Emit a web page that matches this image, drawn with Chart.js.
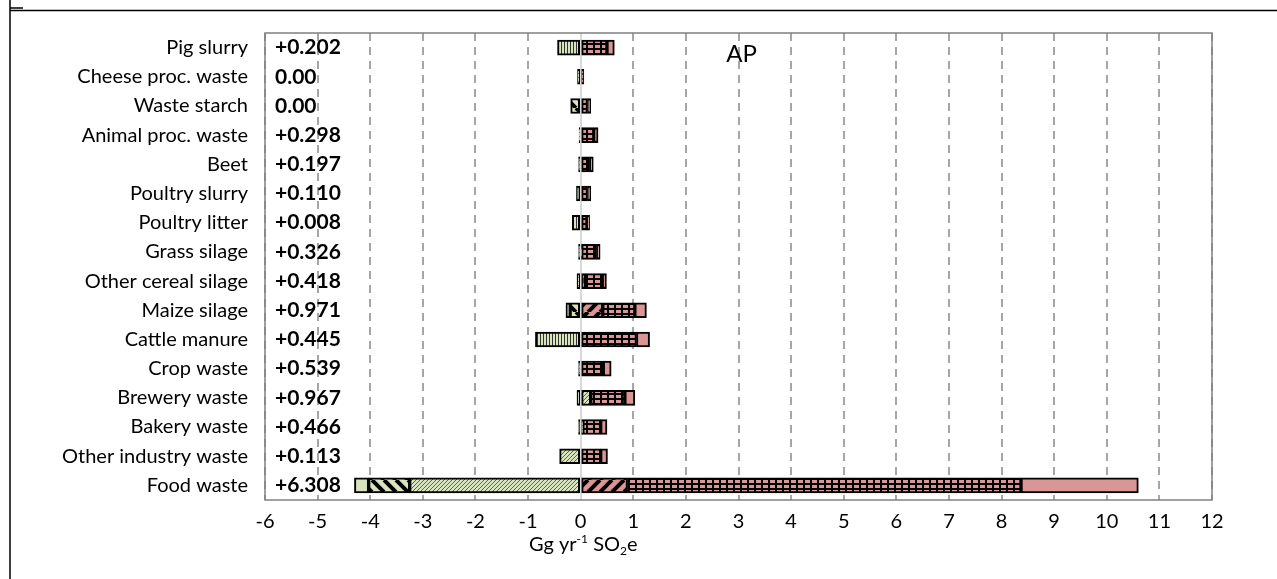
<!DOCTYPE html>
<html>
<head>
<meta charset="utf-8">
<script src="https://cdn.jsdelivr.net/npm/chart.js@4.4.1/dist/chart.umd.min.js"></script>
<style>
  html, body { margin: 0; padding: 0; background: #fff; }
  #wrap { width: 1277px; height: 579px; position: relative; }
</style>
</head>
<body>
<div id="wrap"><canvas id="chart" width="1277" height="579"></canvas></div>
<script>
// categories, top to bottom
const categories = ["Pig slurry", "Cheese proc. waste", "Waste starch", "Animal proc. waste", "Beet",
  "Poultry slurry", "Poultry litter", "Grass silage", "Other cereal silage", "Maize silage",
  "Cattle manure", "Crop waste", "Brewery waste", "Bakery waste", "Other industry waste", "Food waste"];

// net values printed inside the plot
const netLabels = ["+0.202", "0.00", "0.00", "+0.298", "+0.197", "+0.110", "+0.008", "+0.326",
  "+0.418", "+0.971", "+0.445", "+0.539", "+0.967", "+0.466", "+0.113", "+6.308"];

// contributions (Gg yr-1 SO2e)
const greenHatch   = [0, -0.06, 0, -0.03, -0.04, 0, 0, -0.04, -0.07, 0, 0, -0.04, 0.19, 0.04, -0.40, -3.25];
const greenLines   = [-0.44, 0, 0, 0, 0, -0.08, -0.16, 0, 0, 0, -0.86, 0, -0.07, -0.04, 0, 0];
const greenStripes = [0, 0, -0.19, 0, 0, 0, 0, 0, 0, -0.20, 0, 0, 0, 0, 0, -0.78];
const greenSolid   = [0, 0, 0, 0, 0, 0, 0, 0, 0, -0.08, 0, 0, 0, 0, 0, -0.27];
const pinkStripes  = [0, 0, 0, 0, 0, 0, 0, 0.02, 0.08, 0.42, 0, 0, 0, 0, 0, 0.89];
const pinkGrid     = [0.50, 0.06, 0.13, 0.25, 0.17, 0.13, 0.12, 0.28, 0.33, 0.61, 1.06, 0.43, 0.65, 0.34, 0.38, 7.48];
const pinkSolid    = [0.14, 0, 0.06, 0.08, 0.07, 0.06, 0.05, 0.07, 0.08, 0.22, 0.25, 0.15, 0.19, 0.12, 0.13, 2.23];

const GREEN = "#d7e4bd";
const PINK = "#da9694";

function tile(w, h, draw) {
  const c = document.createElement("canvas");
  c.width = w; c.height = h;
  const g = c.getContext("2d");
  draw(g, w, h);
  return g.createPattern(c, "repeat");
}

function diag(g, s, dir, width) {
  g.strokeStyle = "#000";
  g.lineWidth = width;
  for (let k = -1; k <= 1; k++) {
    g.beginPath();
    if (dir > 0) { g.moveTo(k * s, s); g.lineTo(k * s + s, 0); }
    else { g.moveTo(k * s, 0); g.lineTo(k * s + s, s); }
    g.stroke();
  }
}

const patFineHatch = tile(4, 4, (g, w, h) => {
  g.fillStyle = GREEN; g.fillRect(0, 0, w, h);
  g.strokeStyle = "#5a6b3a"; g.lineWidth = 1;
  for (let k = -1; k <= 1; k++) { g.beginPath(); g.moveTo(k * 4, 4); g.lineTo(k * 4 + 4, 0); g.stroke(); }
});
const patLines = tile(3, 3, (g, w, h) => {
  g.fillStyle = GREEN; g.fillRect(0, 0, w, h);
  g.fillStyle = "#333"; g.fillRect(0, 0, 1, h);
});
const patGreenStripes = tile(12, 12, (g, w, h) => {
  g.fillStyle = GREEN; g.fillRect(0, 0, w, h);
  diag(g, 12, -1, 4);
});
const patPinkStripes = tile(12, 12, (g, w, h) => {
  g.fillStyle = PINK; g.fillRect(0, 0, w, h);
  diag(g, 12, 1, 4);
});
const patGrid = tile(7, 5, (g, w, h) => {
  g.fillStyle = "#000"; g.fillRect(0, 0, w, h);
  g.fillStyle = PINK; g.fillRect(0, 0, 5, 3);
});

function ds(label, values, fill) {
  return {
    label: label,
    data: values.map(v => (v === 0 ? null : v)),
    backgroundColor: fill,
    borderColor: "#000",
    borderWidth: 2,
    borderSkipped: false,
    barThickness: 15
  };
}

const FONT = "Lato, 'Open Sans', sans-serif";

const annotations = {
  id: "annotations",
  beforeDraw(chart) {
    const c = chart.ctx;
    c.save();
    c.strokeStyle = "#000";
    c.lineWidth = 1.5;
    c.beginPath();
    c.moveTo(10, 0); c.lineTo(10, 579);
    c.moveTo(10, 10.5); c.lineTo(1277, 10.5);
    c.moveTo(10, 8); c.lineTo(23, 8);
    c.stroke();
    c.restore();
  },
  afterDraw(chart) {
    const c = chart.ctx;
    const a = chart.chartArea;
    const x = chart.scales.x, y = chart.scales.y;
    c.save();
    // plot frame
    c.strokeStyle = "#808080";
    c.lineWidth = 1.5;
    c.strokeRect(a.left, a.top, a.right - a.left, a.bottom - a.top);
    // net values
    c.fillStyle = "#000";
    c.font = "bold 21px " + FONT;
    c.textAlign = "left";
    c.textBaseline = "middle";
    netLabels.forEach((t, i) => c.fillText(t, a.left + 10, y.getPixelForValue(i)));
    // indicator name
    c.font = "24px " + FONT;
    c.textAlign = "center";
    c.fillText("AP", x.getPixelForValue(3.06), y.getPixelForValue(0) + 7);
    // axis title with super/subscript
    const parts = [["Gg yr", 20, 0], ["-1", 12, -8], [" SO", 20, 0], ["2", 12, 4], ["e", 20, 0]];
    let total = 0;
    parts.forEach(p => { c.font = p[1] + "px " + FONT; total += c.measureText(p[0]).width; });
    let cx = x.getPixelForValue(0.05) - total / 2;
    const cy = 551;
    c.textAlign = "left";
    c.textBaseline = "alphabetic";
    parts.forEach(p => {
      c.font = p[1] + "px " + FONT;
      c.fillText(p[0], cx, cy + p[2]);
      cx += c.measureText(p[0]).width;
    });
    c.restore();
  }
};

const data = {
  labels: categories,
  datasets: [
    ds("Fine hatch", greenHatch, patFineHatch),
    ds("Vertical lines", greenLines, patLines),
    ds("Wide stripes", greenStripes, patGreenStripes),
    ds("Solid green", greenSolid, GREEN),
    ds("Pink stripes", pinkStripes, patPinkStripes),
    ds("Pink grid", pinkGrid, patGrid),
    ds("Solid pink", pinkSolid, PINK)
  ]
};

const config = {
  type: "bar",
  data: data,
  options: {
    indexAxis: "y",
    responsive: false,
    animation: false,
    layout: { padding: { top: 33, right: 65, left: 0, bottom: 0 } },
    plugins: {
      legend: { display: false },
      tooltip: { enabled: false }
    },
    scales: {
      x: {
        stacked: true,
        min: -6,
        max: 12,
        ticks: { stepSize: 1, color: "#000", font: { family: FONT, size: 20 }, padding: 10, maxRotation: 0 },
        grid: {
          drawTicks: false,
          color: ctx => (ctx.tick && ctx.tick.value === 0 ? "#d9d9d9" : "#a6a6a6"),
          lineWidth: 2
        },
        border: {
          display: false,
          dash: ctx => (ctx.tick && ctx.tick.value === 0 ? [] : [8, 6])
        },
        afterFit: s => { s.height = 79; }
      },
      y: {
        stacked: true,
        ticks: { color: "#000", font: { family: FONT, size: 20 }, padding: 17 },
        grid: { display: false, drawTicks: false },
        border: { display: false },
        afterFit: s => { s.width = 265; }
      }
    }
  },
  plugins: [annotations]
};

const ctx = document.getElementById("chart").getContext("2d");
const chart = new Chart(ctx, config);
</script>
</body>
</html>
